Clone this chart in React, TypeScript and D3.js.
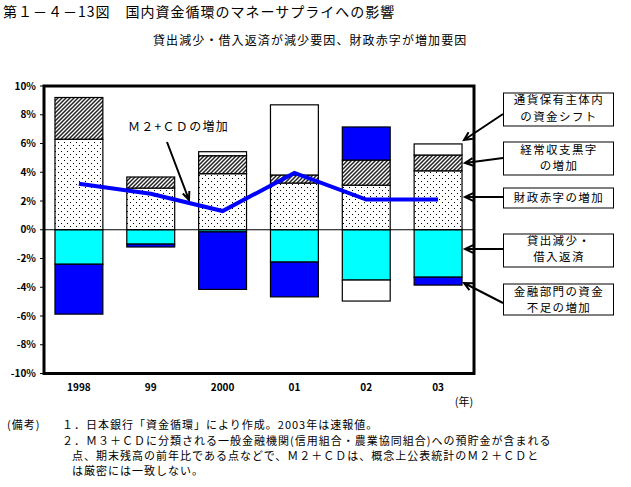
import React from "react";
import * as d3 from "d3";

const years = ["1998", "99", "2000", "01", "02", "03"];
const fiscalDeficit = [6.3, 2.9, 3.9, 3.25, 3.1, 4.1];
const currentAccount = [2.9, 0.77, 1.25, 0.56, 1.75, 1.1];
const lendingDecline = [-2.4, -1.0, -0.15, -2.25, -3.5, -3.3];
const fundShift = [0, 0, 0.28, 4.88, -1.46, 0.77];
const financialShortfall = [-3.47, -0.2, -4.0, -2.42, 2.3, -0.55];
const m2cd = [3.2, 2.5, 1.3, 3.95, 2.1, 2.1];
const yTicks = [10, 8, 6, 4, 2, 0, -2, -4, -6, -8, -10];

const keys = ["fiscal", "current", "lending", "shift", "financial"];
const fills: Record<string, string> = {
  fiscal: "url(#dots)",
  current: "url(#hatch)",
  lending: "#00FFFF",
  shift: "#FFFFFF",
  financial: "#0000FF",
};

const JP = "'Noto Sans CJK JP', sans-serif";
const L = 43, R = 474, T = 86, B = 373.5;

function arrowPath(x1: number, y1: number, x2: number, y2: number, len = 8, ang = 0.45) {
  const a = Math.atan2(y2 - y1, x2 - x1);
  const h1x = x2 - len * Math.cos(a - ang), h1y = y2 - len * Math.sin(a - ang);
  const h2x = x2 - len * Math.cos(a + ang), h2y = y2 - len * Math.sin(a + ang);
  return `M${x1},${y1}L${x2},${y2}M${h1x},${h1y}L${x2},${y2}L${h2x},${h2y}`;
}

const legendBoxes = [
  { y0: 93, y1: 126, lines: ["通貨保有主体内", "の資金シフト"], ly: [104, 121], from: [503, 114], to: [464, 140] },
  { y0: 142, y1: 175, lines: ["経常収支黒字", "の増加"], ly: [154, 170], from: [503, 158], to: [465, 163] },
  { y0: 188, y1: 208, lines: ["財政赤字の増加"], ly: [202], from: [503, 197], to: [465, 197] },
  { y0: 234, y1: 267, lines: ["貸出減少・", "借入返済"], ly: [245, 261], from: [503, 249], to: [465, 249] },
  { y0: 284, y1: 315, lines: ["金融部門の資金", "不足の増加"], ly: [296, 312], from: [503, 303], to: [464, 283] },
];

export default function App() {
  const x = d3.scaleBand<string>().domain(years).range([L, R]).paddingInner(1 / 3).paddingOuter(1 / 6);
  const y = d3.scaleLinear().domain([-10, 10]).range([B, T]);
  const rows = years.map((yr, i) => ({
    year: yr,
    fiscal: fiscalDeficit[i],
    current: currentAccount[i],
    lending: lendingDecline[i],
    shift: fundShift[i],
    financial: financialShortfall[i],
  }));
  const series = d3.stack<any>().keys(keys).offset(d3.stackOffsetDiverging)(rows);
  const line = d3
    .line<number>()
    .x((_, i) => (x(years[i]) as number) + x.bandwidth() / 2)
    .y((d) => y(d));

  return (
    <svg width={631} height={487} style={{ position: "absolute", left: 0, top: 0, background: "#fff" }}>
      <defs>
        <pattern id="dots" patternUnits="userSpaceOnUse" width={6} height={6}>
          <rect width={6} height={6} fill="#fff" />
          <rect x={1} y={1} width={1} height={1} fill="#000" />
          <rect x={4} y={4} width={1} height={1} fill="#000" />
        </pattern>
        <pattern id="hatch" patternUnits="userSpaceOnUse" width={4} height={4}>
          <rect width={4} height={4} fill="#fff" />
          <path d="M-1,1L1,-1M0,4L4,0M3,5L5,3" stroke="#222" strokeWidth={1.5} />
        </pattern>
      </defs>
      <rect width={631} height={487} fill="#fff" />

      {/* Title */}
      <text x={3} y={17} fontFamily={JP} fontSize={14} letterSpacing={1} fill="#000">
        第１－４－13図　国内資金循環のマネーサプライへの影響
      </text>
      <text x={153} y={45} fontFamily={JP} fontSize={12} letterSpacing={1.1} fill="#000">
        貸出減少・借入返済が減少要因、財政赤字が増加要因
      </text>

      {/* Bars */}
      {series.map((s) => (
        <g key={s.key}>
          {s.map((d, i) => {
            const v = d[1] - d[0];
            if (Math.abs(v) < 1e-9) return null;
            const y0 = y(Math.max(d[0], d[1]));
            const y1 = y(Math.min(d[0], d[1]));
            return (
              <rect
                key={i}
                x={x(years[i])}
                y={y0}
                width={x.bandwidth()}
                height={y1 - y0}
                fill={fills[s.key]}
                stroke="#000"
                strokeWidth={1.2}
              />
            );
          })}
        </g>
      ))}

      {/* Zero line */}
      <line x1={L} x2={R} y1={y(0)} y2={y(0)} stroke="#000" strokeWidth={1} />

      {/* M2+CD line */}
      <path d={line(m2cd) || ""} fill="none" stroke="#0000FF" strokeWidth={4} />

      {/* Frame */}
      <rect x={L + 1} y={T} width={R - L - 1} height={B - T} fill="none" stroke="#000" strokeWidth={3} />

      {/* Y ticks */}
      {yTicks.map((t) => (
        <g key={t}>
          <line x1={L - 3} x2={L + 1} y1={y(t)} y2={y(t)} stroke="#000" strokeWidth={1} />
          <text
            x={36}
            y={y(t)}
            dy="0.35em"
            textAnchor="end"
            fontFamily={JP}
            fontSize={10}
            fontWeight="bold"
            fill="#000"
          >
            {`${t}%`}
          </text>
        </g>
      ))}

      {/* X labels */}
      {years.map((yr) => (
        <text
          key={yr}
          x={(x(yr) as number) + x.bandwidth() / 2}
          y={387}
          dy="0.35em"
          textAnchor="middle"
          fontFamily={JP}
          fontSize={10}
          fontWeight="bold"
          fill="#000"
        >
          {yr}
        </text>
      ))}
      <text x={464} y={402} dy="0.35em" textAnchor="middle" fontFamily={JP} fontSize={11} fill="#000">
        (年)
      </text>

      {/* M2+CD annotation */}
      <text x={128} y={131} fontFamily={JP} fontSize={12} letterSpacing={1.3} fill="#000">
        Ｍ２+ＣＤの増加
      </text>
      <path d={arrowPath(167, 142, 189, 200, 9, 0.4)} fill="none" stroke="#000" strokeWidth={2} />

      {/* Legend boxes */}
      {legendBoxes.map((b, i) => (
        <g key={i}>
          <rect x={503.5} y={b.y0} width={110} height={b.y1 - b.y0} fill="#fff" stroke="#000" strokeWidth={1} />
          {b.lines.map((ln, j) => (
            <text
              key={j}
              x={559}
              y={b.ly[j]}
              textAnchor="middle"
              fontFamily={JP}
              fontSize={11.5}
              letterSpacing={1.4}
              fill="#000"
            >
              {ln}
            </text>
          ))}
          <path d={arrowPath(b.from[0], b.from[1], b.to[0], b.to[1], 9, 0.45)} fill="none" stroke="#000" strokeWidth={2} />
        </g>
      ))}

      {/* Notes */}
      <g fontFamily={JP} fontSize={11} fill="#000" letterSpacing={1}>
        <text x={7} y={429}>(備考)</text>
        <text x={62} y={429}>１．日本銀行「資金循環」により作成。2003年は速報値。</text>
        <text x={62} y={445}>２．Ｍ３＋ＣＤに分類される一般金融機関(信用組合・農業協同組合)への預貯金が含まれる</text>
        <text x={72} y={460}>点、期末残高の前年比である点などで、Ｍ２＋ＣＤは、概念上公表統計のＭ２＋ＣＤと</text>
        <text x={72} y={475}>は厳密には一致しない。</text>
      </g>
    </svg>
  );
}
